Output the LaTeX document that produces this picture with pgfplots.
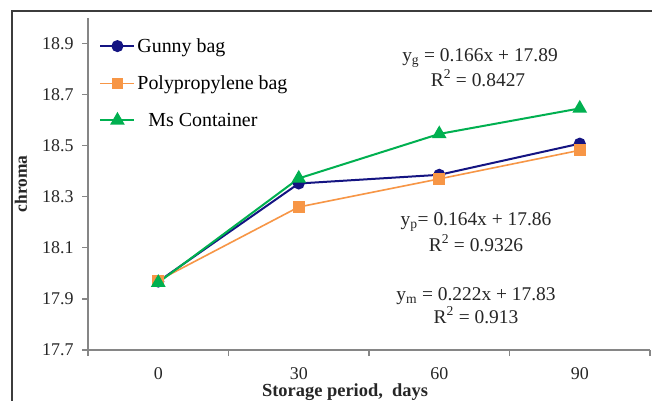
\documentclass[border=0pt]{standalone}
\usepackage{pgfplots}
\pgfplotsset{compat=1.18}
\usepackage{fontspec}
\setmainfont{Liberation Serif}
\definecolor{gunny}{RGB}{20,20,130}
\definecolor{poly}{RGB}{247,150,70}
\definecolor{msc}{RGB}{0,176,80}
\definecolor{axgray}{RGB}{134,134,134}
\definecolor{frame}{RGB}{60,60,60}
\begin{document}
\begin{tikzpicture}[x=1bp,y=1bp]
\useasboundingbox (0,0) rectangle (652,400);
\fill[white] (0,0) rectangle (652,400);
\draw[frame,line width=1.2bp] (12,-2) -- (12,389) -- (654,389);
\begin{axis}[
  at={(88bp,50bp)}, anchor=south west,
  scale only axis, width=562bp, height=332bp,
  xmin=-0.5, xmax=3.5, ymin=17.7, ymax=19.0,
  axis x line*=bottom, axis y line*=left,
  axis line style={axgray, line width=1.2bp, -},
  xtick={0,1,2,3}, xticklabels={0,30,60,90},
  minor xtick={-0.5,0.5,1.5,2.5,3.5},
  major x tick style={draw=none},
  minor x tick style={axgray, line width=1.2bp},
  minor tick length=6bp,
  ytick={17.7,17.9,18.1,18.3,18.5,18.7,18.9},
  yticklabel style={/pgf/number format/fixed, /pgf/number format/precision=1, /pgf/number format/fixed zerofill},
  y tick style={axgray, line width=1.2bp},
  major tick length=6bp,
  tick align=outside,
  /pgf/number format/assume math mode=true,
  tick label style={font=\fontsize{18}{20}\selectfont, text=black!85},
  xticklabel style={yshift=-8bp},
  yticklabel style={xshift=-5bp},
  legend cell align=left,
  legend style={draw=none, fill=none, at={(0.02,0.945)}, anchor=north west,
    font=\fontsize{20}{22}\selectfont, row sep=18bp, inner sep=0pt},
  legend image code/.code={\draw[mark repeat=2,mark phase=2] plot coordinates {(0bp,0bp) (17bp,0bp) (34bp,0bp)};},
  clip=false,
]
\addplot[gunny, line width=2bp, mark=*, mark size=5bp] coordinates {(0,17.968) (1,18.352) (2,18.386) (3,18.508)};
\addlegendentry{Gunny bag}
\addplot[poly, line width=1.6bp, mark=square*, mark size=5bp] coordinates {(0,17.972) (1,18.26) (2,18.37) (3,18.482)};
\addlegendentry{Polypropylene bag}
\addplot[msc, line width=2bp, mark=triangle*, mark size=6.5bp] coordinates {(0,17.964) (1,18.372) (2,18.546) (3,18.646)};
\addlegendentry{\hspace{11bp}Ms Container}
\end{axis}
\begin{scope}[every node/.style={font=\fontsize{19.5}{21}\selectfont, text=black!85, inner sep=0pt}]
\node at (480,342) {y\textsubscript{g} = 0.166x + 17.89};
\node at (478,322) {R\textsuperscript{2} = 0.8427};
\node at (476,178) {y\textsubscript{p}= 0.164x + 17.86};
\node at (476,157) {R\textsuperscript{2} = 0.9326};
\node at (476,104) {y\textsubscript{m} = 0.222x + 17.83};
\node at (476,85) {R\textsuperscript{2} = 0.913};
\node[font=\fontsize{18.5}{20}\selectfont\bfseries, anchor=base] at (345,3.5) {Storage period,\ \ days};
\node[font=\fontsize{17.5}{19}\selectfont\bfseries, rotate=90] at (21,216) {chroma};
\end{scope}
\end{tikzpicture}
\end{document}
